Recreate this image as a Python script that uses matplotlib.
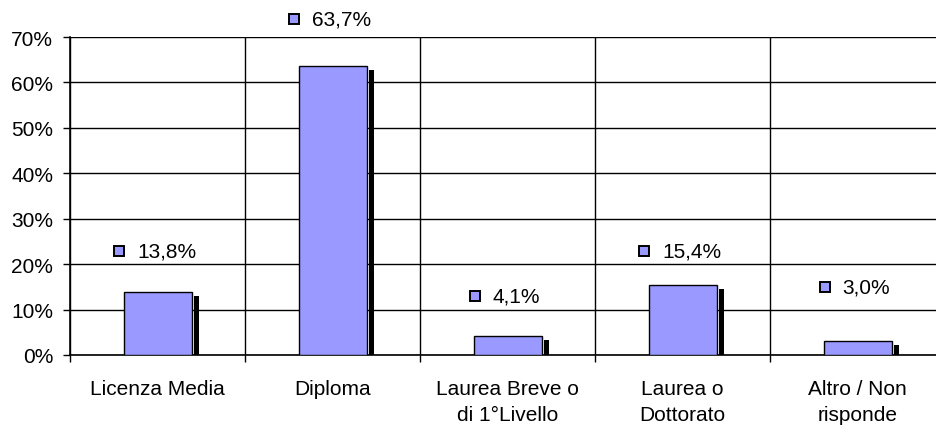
import numpy as np
import matplotlib
matplotlib.use("Agg")
import matplotlib.pyplot as plt
from matplotlib.patches import Rectangle

plt.rcParams['font.family'] = ['Liberation Sans', 'DejaVu Sans']

# data
categories = ["Licenza Media", "Diploma", "Laurea Breve o\ndi 1°Livello",
              "Laurea o\nDottorato", "Altro / Non\nrisponde"]
values = [13.8, 63.7, 4.1, 15.4, 3.0]
value_labels = ["13,8%", "63,7%", "4,1%", "15,4%", "3,0%"]
label_heights = [22.9, 74.0, 13.0, 22.9, 15.0]   # where Excel put the labels

bar_color = '#9999FF'

W, H = 936, 427
fig = plt.figure(figsize=(W / 100, H / 100), dpi=100)
ax = fig.add_axes([70 / W, 71 / H, 875 / W, 318 / H])

n = len(categories)
x = np.arange(n) + 0.5
px = 1 / 175.0          # one pixel in x data units
py = 70 / 318.0         # one pixel in y data units
bw = 68 * px

# shadow bars (black, offset right and down)
for xi, v in zip(x, values):
    ax.add_patch(Rectangle((xi + bw / 2 + 2 * px, 0), 5 * px, max(v - 4 * py, 0),
                           facecolor='black', edgecolor='none', zorder=2))
ax.bar(x, values, width=bw, color=bar_color, edgecolor='black', linewidth=1.0, zorder=3)

ax.set_xlim(0, n)
ax.set_ylim(0, 70)
ax.set_yticks(np.arange(0, 71, 10))
ax.set_yticklabels([f"{t}%" for t in range(0, 71, 10)], fontsize=15)
ax.set_xticks(np.arange(n + 1), minor=False)
ax.set_xticklabels([''] * (n + 1))
ax.set_xticks(x, minor=True)
ax.set_xticklabels(categories, minor=True, fontsize=15, linespacing=1.5)
ax.tick_params(axis='x', which='minor', length=0, pad=17)
ax.tick_params(axis='x', which='major', length=5, width=1, direction='out')
ax.tick_params(axis='y', length=5, width=1, direction='out', pad=7)
ax.grid(True, which='major', color='black', linewidth=1.0, zorder=1)
ax.set_axisbelow(True)
for s in ['top', 'right']:
    ax.spines[s].set_visible(False)
ax.spines['left'].set_linewidth(1.2)
ax.spines['bottom'].set_linewidth(1.2)

# value labels with small legend key
fig.canvas.draw()
r = fig.canvas.get_renderer()
for xi, ly, lab in zip(x, label_heights, value_labels):
    t = ax.text(xi + 9 * px, ly, lab, ha='center', va='center', fontsize=15, zorder=5,
                clip_on=False)
    bb = t.get_window_extent(renderer=r)
    left = ax.transData.inverted().transform((bb.x0, 0))[0]
    ax.add_patch(Rectangle((left - 23 * px, ly - 5 * py), 10 * px, 10 * py,
                           facecolor=bar_color, edgecolor='black', linewidth=1.4,
                           zorder=5, clip_on=False))

fig.savefig("out.png", dpi=100)
